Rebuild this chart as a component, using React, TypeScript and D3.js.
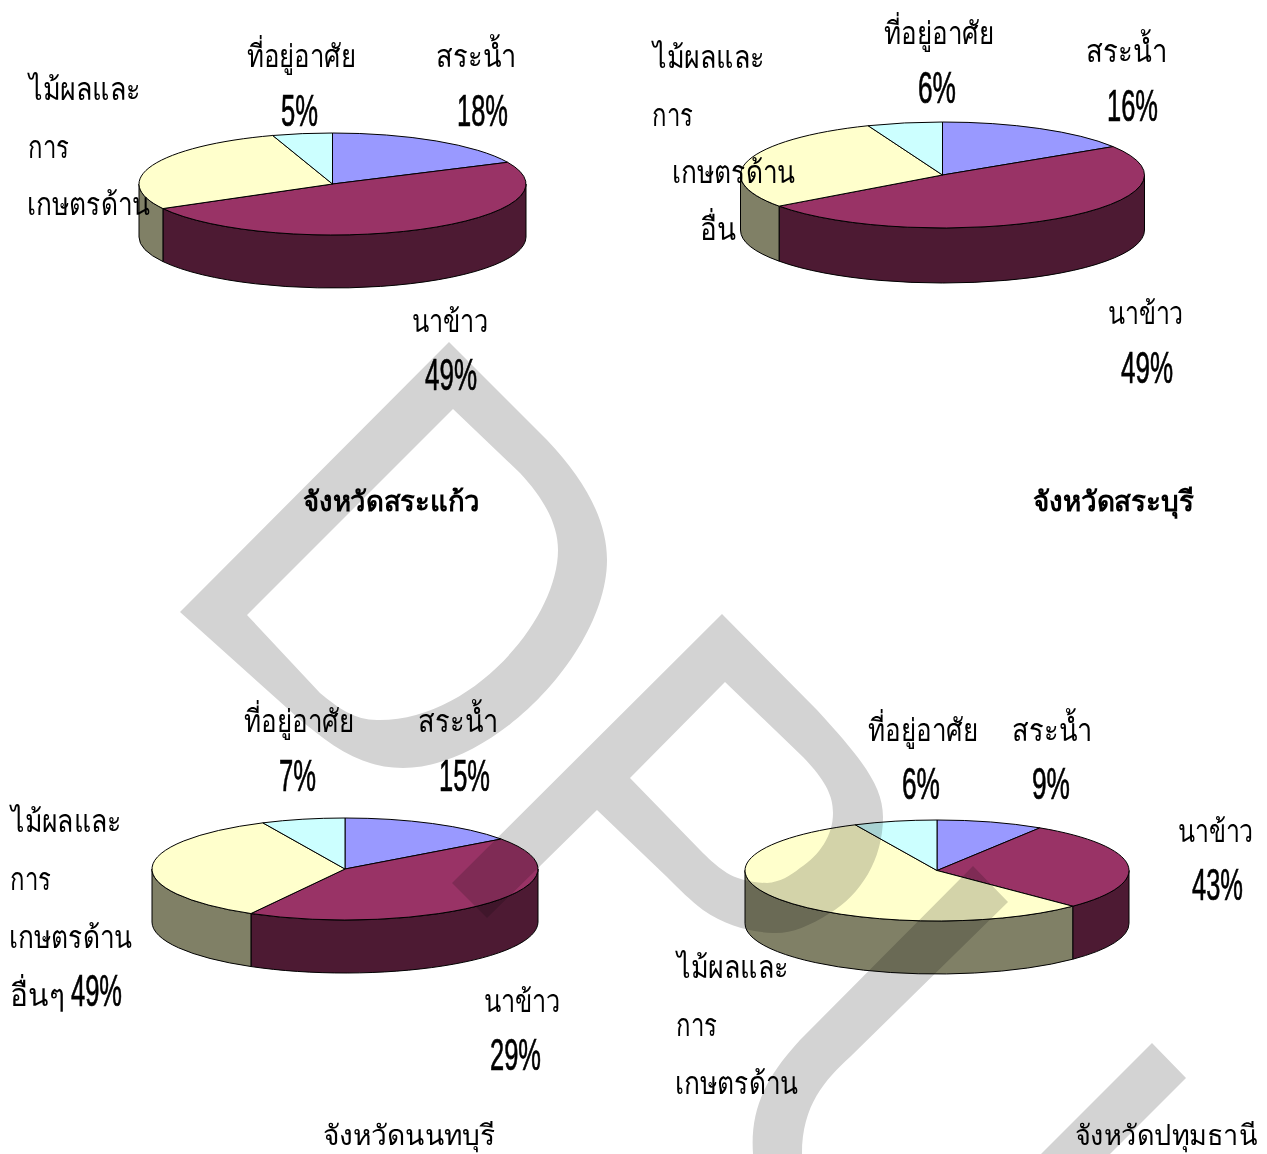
import React from 'react';
import * as d3 from 'd3';

const W = 1267;
const H = 1154;

const categories = ['สระน้ำ', 'นาข้าว', 'ไม้ผลและการเกษตรด้านอื่นๆ', 'ที่อยู่อาศัย'];

// slice sizes as drawn (the printed labels of the lower two do not agree with them)
const saKaeoValues = [18, 49, 28, 5];
const saraburiValues = [16, 49, 29, 6];
const nonthaburiValues = [15, 43.1, 34.9, 7];
const pathumThaniValues = [9, 28.5, 55.5, 7];

const topColors = ['#9999FF', '#993366', '#FFFFCC', '#CCFFFF'];
const sideColors = ['#4D4D80', '#4D1A33', '#808066', '#668080'];

const thaiFont = '"Noto Sans", "DejaVu Sans", sans-serif';
const digitFont = '"Liberation Sans", sans-serif';

// text, left, right, baseline
type Label = [string, number, number, number];

const saKaeoLabels: Label[] = [
  ['ที่อยู่อาศัย', 247, 356, 67], ['5%', 281, 318, 126],
  ['สระน้ำ', 436, 516, 67], ['18%', 457, 508, 126],
  ['ไม้ผลและ', 29, 141, 100], ['การ', 28, 69, 158], ['เกษตรด้าน', 27, 150, 215],
  ['นาข้าว', 412, 488, 332], ['49%', 425, 477, 390],
];
const saraburiLabels: Label[] = [
  ['ไม้ผลและ', 653, 765, 68], ['การ', 652, 693, 126], ['เกษตรด้าน', 672, 795, 183], ['อื่น', 700, 736, 240],
  ['ที่อยู่อาศัย', 884, 994, 44], ['6%', 918, 956, 103],
  ['สระน้ำ', 1086, 1167, 62], ['16%', 1107, 1158, 121],
  ['นาข้าว', 1108, 1183, 324], ['49%', 1121, 1173, 383],
];
const nonthaburiLabels: Label[] = [
  ['ที่อยู่อาศัย', 244, 354, 732], ['7%', 279, 316, 791],
  ['สระน้ำ', 418, 498, 732], ['15%', 439, 490, 791],
  ['ไม้ผลและ', 11, 122, 832], ['การ', 10, 51, 890], ['เกษตรด้าน', 9, 132, 948],
  ['อื่นๆ', 10, 65, 1006], ['49%', 71, 122, 1006],
  ['นาข้าว', 484, 560, 1012], ['29%', 490, 541, 1070],
];
const pathumThaniLabels: Label[] = [
  ['ที่อยู่อาศัย', 868, 978, 741], ['6%', 902, 940, 799],
  ['สระน้ำ', 1012, 1092, 741], ['9%', 1032, 1070, 799],
  ['นาข้าว', 1178, 1253, 842], ['43%', 1192, 1243, 900],
  ['ไม้ผลและ', 677, 789, 978], ['การ', 676, 717, 1036], ['เกษตรด้าน', 675, 798, 1094],
];

const pieGen = d3.pie<number>().sort(null).value(d => d);
const arcGen = d3.arc<d3.PieArcDatum<number>>();

function Pie3D({values, cx, cy, rx, ry, depth}: {values: number[]; cx: number; cy: number; rx: number; ry: number; depth: number}) {
  const slices = pieGen(values);
  const pt = (a: number, dy = 0) => `${cx + rx * Math.sin(a)},${cy - ry * Math.cos(a) + dy}`;
  return (
    <g>
      {slices.map((s, i) => {
        const a0 = Math.max(s.startAngle, Math.PI / 2);
        const a1 = Math.min(s.endAngle, Math.PI * 1.5);
        if (a1 <= a0) return null;
        const d = `M${pt(a0)}A${rx},${ry} 0 0 1 ${pt(a1)}L${pt(a1, depth)}A${rx},${ry} 0 0 0 ${pt(a0, depth)}Z`;
        return <path key={i} d={d} fill={sideColors[i]} stroke="#000" strokeWidth={1}/>;
      })}
      <g transform={`translate(${cx},${cy}) scale(1,${ry / rx})`}>
        {slices.map((s, i) => (
          <path key={i} d={arcGen({...s, innerRadius: 0, outerRadius: rx} as any) || ''} fill={topColors[i]}
                stroke="#000" strokeWidth={1} vectorEffect="non-scaling-stroke">
            <title>{categories[i]}</title>
          </path>
        ))}
      </g>
    </g>
  );
}

function Labels({items}: {items: Label[]}) {
  return (
    <g fill="#000">
      {items.map(([t, x0, x1, y], i) => {
        const isPct = t.includes('%');
        // labels by the right page edge hang from their right end
        const fromEnd = x1 > 1200;
        return (
          <text key={i} x={fromEnd ? x1 : x0} y={y} textAnchor={fromEnd ? 'end' : 'start'}
                textLength={x1 - x0} lengthAdjust="spacingAndGlyphs"
                fontFamily={isPct ? digitFont : thaiFont} fontSize={isPct ? 44 : 31}
                stroke={isPct ? '#000' : 'none'} strokeWidth={isPct ? 0.7 : 0}>{t}</text>
        );
      })}
    </g>
  );
}

function Title({text, x0, x1, y, bold}: {text: string; x0: number; x1: number; y: number; bold?: boolean}) {
  return (
    <text x={x0} y={y} textLength={x1 - x0} lengthAdjust="spacingAndGlyphs" fontFamily={thaiFont}
          fontSize={28} fontWeight={bold ? 700 : 400}>{text}</text>
  );
}

// the grey page watermark, three big rotated letters
const letterD = 'M180,612L449,342L547,440C585,480 607,520 607,560C607,650 495,768 403,768C360,768 330,745 297,717Z' +
  'M247,615L453,409L520,473C545,500 558,525 558,550C558,620 470,722 377,720C355,720 338,708 320,693Z';
const letterP = 'M452,883L722,614L817,710C860,757 883,785 883,817C883,860 860,895 830,913C808,927 790,934 773,933C748,932 725,925 703,910C690,900 680,890 667,877L597,810L487,918Z' +
  'M630,778L725,682L803,757C825,780 833,795 833,813C833,835 820,855 800,868C790,876 780,882 767,883C750,883 735,878 727,873C715,865 708,858 700,850Z';
const letterU = 'M973,866L1008,902L850,1057C825,1080 802,1105 802,1154L753,1154C750,1110 765,1078 800,1040Z' +
  'M1152,1043L1186,1078L1110,1154L1041,1154Z';

export default function App() {
  return (
    <svg width={W} height={H} viewBox={`0 0 ${W} ${H}`}
         style={{position: 'absolute', left: 0, top: 0, display: 'block', background: '#fff'}}>
      <Pie3D values={saKaeoValues} cx={332.5} cy={184} rx={193.5} ry={51} depth={53}/>
      <Pie3D values={saraburiValues} cx={942.5} cy={175} rx={202} ry={53} depth={55}/>
      <Pie3D values={nonthaburiValues} cx={345} cy={869} rx={193} ry={51} depth={53}/>
      <Pie3D values={pathumThaniValues} cx={937} cy={870.5} rx={192} ry={50.5} depth={53}/>

      <Labels items={saKaeoLabels}/>
      <Labels items={saraburiLabels}/>
      <Labels items={nonthaburiLabels}/>
      <Labels items={pathumThaniLabels}/>

      <Title text="จังหวัดสระแก้ว" x0={303} x1={480} y={511} bold/>
      <Title text="จังหวัดสระบุรี" x0={1033} x1={1194} y={511} bold/>
      <Title text="จังหวัดนนทบุรี" x0={323} x1={495} y={1145}/>
      <Title text="จังหวัดปทุมธานี" x0={1075} x1={1257} y={1145}/>

      <g fill="#D3D3D3" fillRule="evenodd" style={{mixBlendMode: 'multiply'}}>
        <path d={letterD}/>
        <path d={letterP}/>
        <path d={letterU}/>
      </g>
    </svg>
  );
}
